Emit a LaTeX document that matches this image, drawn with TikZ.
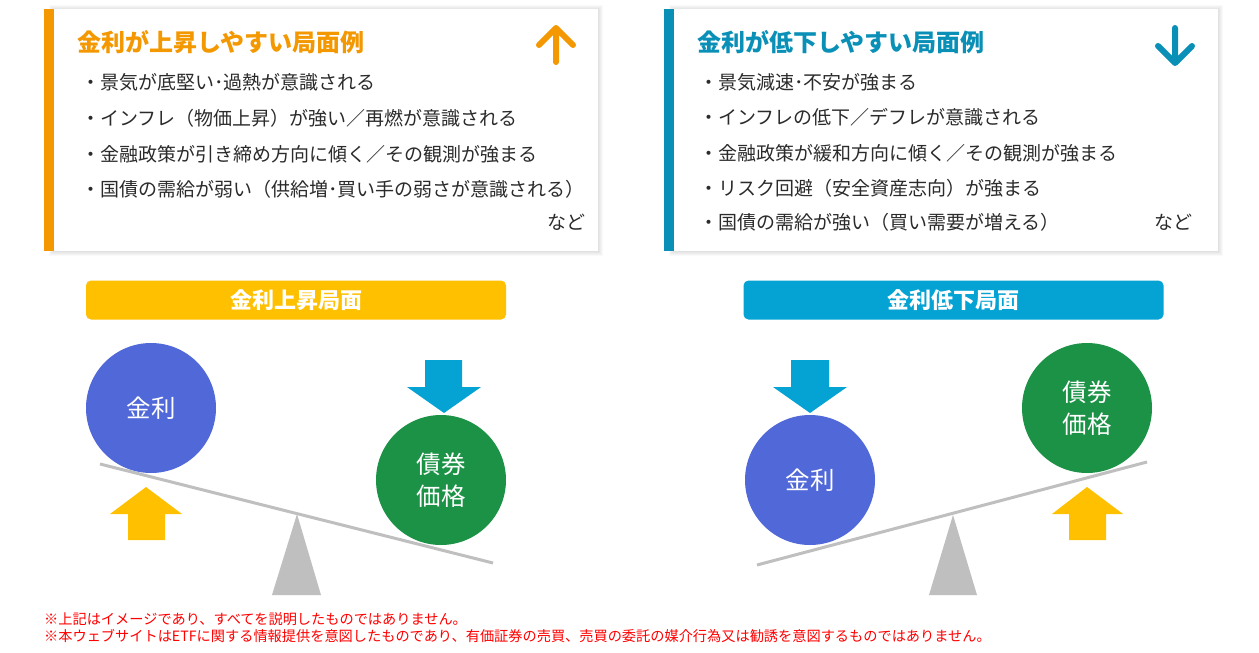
\documentclass[tikz,border=0pt]{standalone}
\usepackage{fontspec}
\setmainfont{Noto Sans CJK JP}
\definecolor{orangeT}{HTML}{F39800}
\definecolor{tealT}{HTML}{0A90B7}
\definecolor{barY}{HTML}{FFC000}
\definecolor{barB}{HTML}{05A3D4}
\definecolor{circB}{HTML}{5169D8}
\definecolor{circG}{HTML}{1C9247}
\definecolor{seeG}{HTML}{BFBFBF}
\definecolor{txtgray}{HTML}{2B2B2B}
\definecolor{noteR}{HTML}{FF0000}
\begin{document}
\begin{tikzpicture}[x=1pt,y=-1pt,
  panel/.style={draw=none, fill=white, anchor=north west, inner sep=0pt,
    minimum width=544pt, minimum height=242pt},
  softshadow/.style={fill=black, opacity=0.022},
  title/.style={anchor=west, inner sep=0pt, font=\fontsize{24}{26}\selectfont\bfseries},
  line/.style={anchor=west, inner sep=0pt, text=txtgray, font=\fontsize{19}{21}\selectfont},
  nado/.style={anchor=east, inner sep=0pt, text=txtgray, font=\fontsize{19}{21}\selectfont},
  phase/.style={rounded corners=5pt, minimum width=420pt, minimum height=39pt, inner sep=0pt,
    text=white, font=\fontsize{22}{24}\selectfont\bfseries},
  ball/.style={circle, minimum size=130pt, inner sep=0pt, text=white,
    font=\fontsize{24.5}{32}\selectfont, align=center},
  beam/.style={draw=seeG, line width=3pt},
  note/.style={anchor=west, inner sep=0pt, text=noteR, font=\fontsize{14.2}{16}\selectfont},
  iconarrow/.style={line width=6pt, line cap=round, line join=round}
]
\useasboundingbox (0,0) rectangle (1259,653);
\fill[white] (0,0) rectangle (1259,653);

% ---------- soft shadows ----------
\foreach \i in {1,2,3,4,5}{
  \fill[softshadow] (54-\i,9-\i+1) rectangle (598+\i,251+\i);
  \fill[softshadow] (674-\i,9-\i+1) rectangle (1218+\i,251+\i);
}

% ---------- left panel ----------
\node[panel] (lpanel) at (54,9) {};
\fill[orangeT] (44,9) rectangle (54,251);
\node[title, text=orangeT] (ltitle) at (77,42) {金利が上昇しやすい局面例};
\draw[orangeT, iconarrow] (556,62) -- (556,28) (539,45) -- (556,28) -- (573,45);
\node[line] (l1) at (81,82) {・景気が底堅い･過熱が意識される};
\node[line] (l2) at (81,118) {・インフレ（物価上昇）が強い／再燃が意識される};
\node[line] (l3) at (81,154) {・金融政策が引き締め方向に傾く／その観測が強まる};
\node[line] (l4) at (81,189) {・国債の需給が弱い（供給増･買い手の弱さが意識される）};
\node[nado] (lnado) at (586,222) {など};

% ---------- right panel ----------
\node[panel] (rpanel) at (674,9) {};
\fill[tealT] (664,9) rectangle (674,251);
\node[title, text=tealT] (rtitle) at (697,42) {金利が低下しやすい局面例};
\draw[tealT, iconarrow] (1175,28) -- (1175,63) (1158,46) -- (1175,63) -- (1192,46);
\node[line] (r1) at (699,82) {・景気減速･不安が強まる};
\node[line] (r2) at (699,117) {・インフレの低下／デフレが意識される};
\node[line] (r3) at (699,153) {・金融政策が緩和方向に傾く／その観測が強まる};
\node[line] (r4) at (699,188) {・リスク回避（安全資産志向）が強まる};
\node[line] (r5) at (699,222) {・国債の需給が強い（買い需要が増える）};
\node[nado] (rnado) at (1193,222) {など};

% ---------- left seesaw: rate up ----------
\node[phase, fill=barY] (lphase) at (296,300) {金利上昇局面};
\fill[seeG] (297,514) -- (321,595) -- (272,595) -- cycle;
\draw[beam] (100,464) -- (493,563);
\node[ball, fill=circB] (lrate) at (151,408) {金利};
\node[ball, fill=circG] (lbond) at (441,480) {債券\\価格};
\fill[barB] (425,360) -- (462,360) -- (462,387) -- (481,387) -- (444,413) -- (407,387) -- (425,387) -- cycle;
\fill[barY] (128,540) -- (165,540) -- (165,514) -- (182,514) -- (146,487) -- (110,514) -- (128,514) -- cycle;

% ---------- right seesaw: rate down ----------
\node[phase, fill=barB] (rphase) at (953.5,300) {金利低下局面};
\fill[seeG] (953,515) -- (977,595) -- (929,595) -- cycle;
\draw[beam] (757,565) -- (1147,462);
\node[ball, fill=circB] (rrate) at (810,480) {金利};
\node[ball, fill=circG] (rbond) at (1087,408) {債券\\価格};
\fill[barB] (791,360) -- (829,360) -- (829,387) -- (847,387) -- (810,413) -- (773,387) -- (791,387) -- cycle;
\fill[barY] (1069,540) -- (1106,540) -- (1106,514) -- (1123,514) -- (1087,487) -- (1052,514) -- (1069,514) -- cycle;

% ---------- notes ----------
\node[note] (n1) at (44,619) {※上記はイメージであり、すべてを説明したものではありません。};
\node[note] (n2) at (44,636) {※本ウェブサイトはETFに関する情報提供を意図したものであり、有価証券の売買、売買の委託の媒介行為又は勧誘を意図するものではありません。};
\end{tikzpicture}
\end{document}
